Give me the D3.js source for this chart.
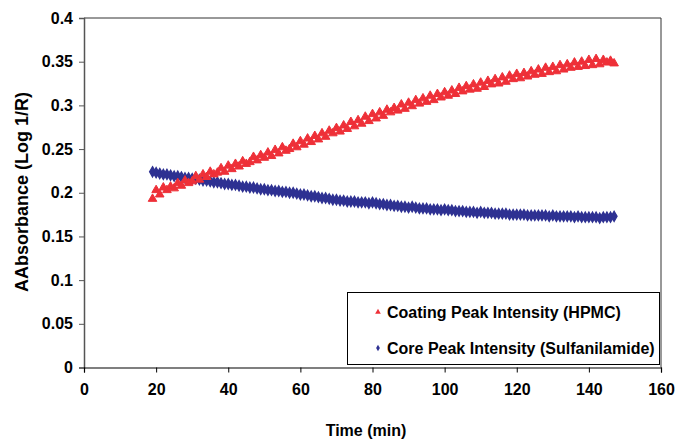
<!DOCTYPE html>
<html>
<head>
<meta charset="utf-8">
<script src="https://cdn.jsdelivr.net/npm/d3@7"></script>
<style>
  html, body { margin: 0; padding: 0; background: #fff; }
  svg { display: block; font-family: Arial, "Liberation Sans", sans-serif; font-weight: bold; }
</style>
</head>
<body>
<div id="chart"></div>
<script>
// sampling times (min)
var times = [19, 20, 21, 22, 23, 24, 25, 26, 27, 28, 29, 30, 31, 32, 33, 34, 35, 36, 37, 38, 39,
  40, 41, 42, 43, 44, 45, 46, 47, 48, 49, 50, 51, 52, 53, 54, 55, 56, 57, 58, 59,
  60, 61, 62, 63, 64, 65, 66, 67, 68, 69, 70, 71, 72, 73, 74, 75, 76, 77, 78, 79,
  80, 81, 82, 83, 84, 85, 86, 87, 88, 89, 90, 91, 92, 93, 94, 95, 96, 97, 98, 99,
  100, 101, 102, 103, 104, 105, 106, 107, 108, 109, 110, 111, 112, 113, 114, 115, 116, 117, 118, 119,
  120, 121, 122, 123, 124, 125, 126, 127, 128, 129, 130, 131, 132, 133, 134, 135, 136, 137, 138, 139,
  140, 141, 142, 143, 144, 145, 146, 147];

// Coating peak intensity (HPMC)
var coating = [0.193, 0.203, 0.198, 0.206, 0.203, 0.207, 0.205, 0.211, 0.208, 0.214, 0.211,
  0.213, 0.219, 0.215, 0.221, 0.218, 0.224, 0.221, 0.223, 0.228, 0.224,
  0.231, 0.227, 0.233, 0.230, 0.236, 0.233, 0.235, 0.241, 0.237, 0.243,
  0.240, 0.246, 0.242, 0.249, 0.245, 0.252, 0.248, 0.250, 0.256, 0.252,
  0.259, 0.255, 0.262, 0.258, 0.265, 0.261, 0.268, 0.264, 0.271, 0.268,
  0.274, 0.270, 0.277, 0.273, 0.281, 0.276, 0.283, 0.279, 0.287, 0.282,
  0.290, 0.285, 0.292, 0.288, 0.295, 0.292, 0.297, 0.294, 0.301, 0.296,
  0.303, 0.299, 0.306, 0.302, 0.308, 0.304, 0.311, 0.306, 0.313, 0.309,
  0.315, 0.311, 0.317, 0.313, 0.320, 0.316, 0.322, 0.318, 0.324, 0.319,
  0.326, 0.321, 0.328, 0.324, 0.330, 0.325, 0.332, 0.327, 0.334, 0.330,
  0.336, 0.331, 0.337, 0.333, 0.339, 0.335, 0.341, 0.336, 0.343, 0.338,
  0.344, 0.339, 0.346, 0.341, 0.347, 0.343, 0.349, 0.344, 0.350, 0.345,
  0.352, 0.346, 0.353, 0.347, 0.352, 0.349, 0.351, 0.348];

// Core peak intensity (Sulfanilamide)
var core = [0.224, 0.223, 0.222, 0.221, 0.221, 0.220, 0.219, 0.219, 0.218, 0.217, 0.217,
  0.216, 0.216, 0.215, 0.214, 0.214, 0.213, 0.212, 0.212, 0.211, 0.210,
  0.210, 0.209, 0.209, 0.208, 0.207, 0.207, 0.206, 0.206, 0.205, 0.204,
  0.204, 0.203, 0.203, 0.202, 0.202, 0.201, 0.201, 0.200, 0.200, 0.199,
  0.198, 0.198, 0.197, 0.196, 0.196, 0.195, 0.194, 0.194, 0.193, 0.192,
  0.192, 0.191, 0.191, 0.190, 0.190, 0.190, 0.189, 0.189, 0.189, 0.188,
  0.189, 0.188, 0.187, 0.187, 0.186, 0.186, 0.185, 0.185, 0.184, 0.184,
  0.183, 0.184, 0.183, 0.182, 0.182, 0.182, 0.181, 0.181, 0.181, 0.180,
  0.181, 0.180, 0.180, 0.179, 0.179, 0.179, 0.178, 0.178, 0.178, 0.177,
  0.178, 0.177, 0.177, 0.177, 0.176, 0.176, 0.176, 0.176, 0.175, 0.175,
  0.175, 0.175, 0.175, 0.174, 0.174, 0.174, 0.174, 0.174, 0.174, 0.173,
  0.174, 0.173, 0.173, 0.173, 0.173, 0.173, 0.172, 0.173, 0.172, 0.172,
  0.172, 0.172, 0.172, 0.171, 0.172, 0.172, 0.172, 0.173];

var xTicks = [0, 20, 40, 60, 80, 100, 120, 140, 160];
var yTicks = [0, 0.05, 0.1, 0.15, 0.2, 0.25, 0.3, 0.35, 0.4];
var seriesNames = ['Coating Peak Intensity (HPMC)', 'Core Peak Intensity (Sulfanilamide)'];

(function () {
  var width = 677, height = 439;
  var margin = { top: 18, right: 16, bottom: 72, left: 84 };
  var red = '#ee3038', blue = '#2e3192';
  var fontFam = 'Arial, "Liberation Sans", sans-serif';

  var svg = d3.select('#chart').append('svg')
    .attr('width', width)
    .attr('height', height);

  var x = d3.scaleLinear().domain([0, 160]).range([margin.left, width - margin.right]);
  var y = d3.scaleLinear().domain([0, 0.4]).range([height - margin.bottom + 0.5, margin.top]);

  // plot frame (top + right)
  svg.append('path')
    .attr('d', 'M' + x(0) + ',' + y(0.4) + 'H' + x(160) + 'V' + y(0))
    .attr('fill', 'none')
    .attr('stroke', '#333')
    .attr('stroke-width', 1);

  // axes
  var yAxis = svg.append('g')
    .attr('transform', 'translate(' + x(0) + ',0)')
    .call(d3.axisLeft(y).tickValues(yTicks).tickSize(5).tickPadding(6)
      .tickFormat(function (d) { return d3.format('~g')(d); }));
  yAxis.select('.domain').attr('stroke', '#555').attr('stroke-width', 1.5);
  yAxis.selectAll('.tick line').attr('stroke', '#555');
  yAxis.selectAll('text').attr('font-size', 16).attr('font-weight', 'bold').attr('fill', '#000')
    .attr('font-family', fontFam);

  var xAxis = svg.append('g')
    .attr('transform', 'translate(0,' + y(0) + ')')
    .call(d3.axisBottom(x).tickValues(xTicks).tickSize(5).tickPadding(11));
  xAxis.select('.domain').attr('stroke', '#000').attr('stroke-width', 1.2);
  xAxis.selectAll('.tick line').attr('stroke', '#000');
  xAxis.selectAll('text').attr('font-size', 16).attr('font-weight', 'bold').attr('fill', '#000')
    .attr('font-family', fontFam);

  // axis titles
  svg.append('text')
    .attr('x', 366)
    .attr('y', 436)
    .attr('text-anchor', 'middle')
    .attr('font-size', 16)
    .text('Time (min)');

  svg.append('text')
    .attr('transform', 'translate(28,192) rotate(-90)')
    .attr('text-anchor', 'middle')
    .attr('font-size', 18)
    .text('AAbsorbance (Log 1/R)');

  var tri = d3.symbol().type(d3.symbolTriangle).size(32);
  var dia = d3.symbol().type(d3.symbolDiamond).size(30);

  // core series (blue diamonds)
  svg.append('g')
    .selectAll('path')
    .data(times)
    .join('path')
    .attr('d', dia)
    .attr('transform', function (d, i) { return 'translate(' + x(d) + ',' + y(core[i]) + ')'; })
    .attr('fill', blue)
    .attr('stroke', blue)
    .attr('stroke-width', 1.3);

  // coating series (red triangles)
  svg.append('g')
    .selectAll('path')
    .data(times)
    .join('path')
    .attr('d', tri)
    .attr('transform', function (d, i) { return 'translate(' + x(d) + ',' + y(coating[i]) + ')'; })
    .attr('fill', red)
    .attr('stroke', red)
    .attr('stroke-width', 1);

  // legend
  var lg = svg.append('g');
  lg.append('rect')
    .attr('x', 347.5).attr('y', 292.5)
    .attr('width', 312).attr('height', 72)
    .attr('fill', '#fff')
    .attr('stroke', '#000')
    .attr('stroke-width', 1);

  var legendRows = lg.selectAll('g.row')
    .data(seriesNames)
    .join('g')
    .attr('class', 'row')
    .attr('transform', function (d, i) { return 'translate(378,' + (312 + i * 36) + ')'; });

  legendRows.append('path')
    .attr('d', function (d, i) { return i === 0 ? d3.symbol().type(d3.symbolTriangle).size(14)() : d3.symbol().type(d3.symbolDiamond).size(12)(); })
    .attr('fill', function (d, i) { return i === 0 ? red : blue; });

  legendRows.append('text')
    .attr('x', 9)
    .attr('y', 5.5)
    .attr('font-size', 16)
    .text(function (d) { return d; });
})();
</script>
</body>
</html>
